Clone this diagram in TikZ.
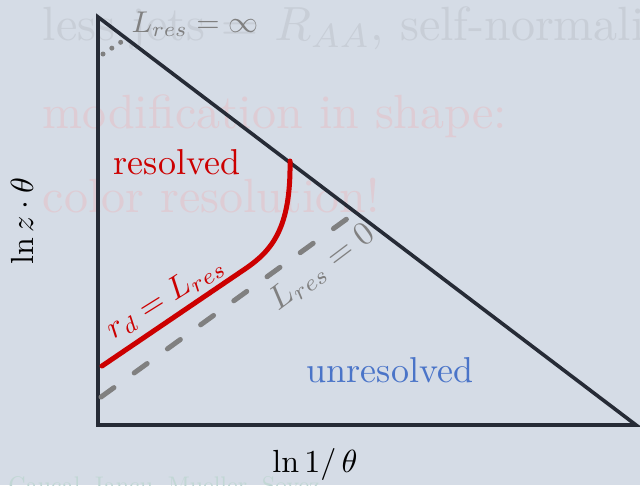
\documentclass[tikz,border=0pt]{standalone}
\usepackage{fontspec}
\definecolor{bg}{RGB}{213,220,230}
\definecolor{tri}{RGB}{38,43,54}
\definecolor{myred}{RGB}{204,0,0}
\definecolor{mygray}{RGB}{128,128,128}
\definecolor{myblue}{RGB}{74,116,200}
\definecolor{fadegray}{RGB}{200,206,215}
\definecolor{fadepink}{RGB}{222,204,212}
\definecolor{fadegreen}{RGB}{194,215,213}
\tikzset{
  tribox/.style={draw=tri, line width=3.6pt, line join=miter},
  curve/.style={draw=myred, line width=5pt, line cap=round},
  zeroline/.style={draw=mygray, line width=5pt, line cap=round, dash pattern=on 16pt off 25pt},
  infline/.style={draw=mygray, line width=5pt, line cap=round, dash pattern=on 0pt off 10.6pt},
  fadetxt/.style={anchor=base west, inner sep=0pt, scale=4.8},
  lbl/.style={inner sep=0pt, scale=3.6},
}
\begin{document}
\begin{tikzpicture}[x=1pt, y=-1pt]
\useasboundingbox (0,0) rectangle (640,485);
\clip (0,0) rectangle (640,485);
\fill[bg] (0,0) rectangle (640,485);
% faded background slide text
\node[fadetxt, text=fadegray] (f1) at (42,40) {less jets $=$ $R_{AA}$, self-normalized};
\node[fadetxt, text=fadepink] (f2) at (42,128) {modification in shape:};
\node[fadetxt, text=fadepink] (f3) at (42,212) {color resolution!};
\node[anchor=base west, inner sep=0pt, scale=2.4, text=fadegreen] (f4) at (8,493) {Caucal, Iancu, Mueller, Soyez};
% triangle
\coordinate (A) at (98,17);
\coordinate (B) at (98,425);
\coordinate (C) at (636,425);
\draw[tribox] (A) -- (B) -- (C) -- cycle;
% L_res = 0 dashed line
\coordinate (z0) at (101,397);
\coordinate (z1) at (355,213);
\draw[zeroline] (z0) -- (z1);
% L_res = infinity dotted
\coordinate (i0) at (103,54);
\coordinate (i1) at (122,41.4);
\draw[infline] (i0) -- (i1);
% red curve
\coordinate (r0) at (102,366);
\coordinate (r1) at (245,269);
\coordinate (r2) at (290,161);
\draw[curve] (r0) -- (r1) .. controls (272,250.7) and (291,228) .. (r2);
% labels
\node[lbl, text=myred] (res) at (177,162) {resolved};
\node[lbl, text=myblue] (unres) at (390,370) {unresolved};
\node[lbl, text=myred, rotate=32, scale=0.89] (rd) at (165,297) {$r_d = L_{res}$};
\node[lbl, text=mygray, rotate=37, scale=0.92] (l0) at (322,267) {$L_{res} = 0$};
\node[anchor=base west, inner sep=0pt, scale=3.0, text=mygray] (linf) at (131,32) {$L_{res} = \infty$};
\node[inner sep=0pt, scale=3.2, rotate=90] (ylab) at (22,221) {$\ln z\cdot\theta$};
\node[inner sep=0pt, scale=3.2] (xlab) at (315,464) {$\ln 1/\,\theta$};
\end{tikzpicture}
\end{document}
